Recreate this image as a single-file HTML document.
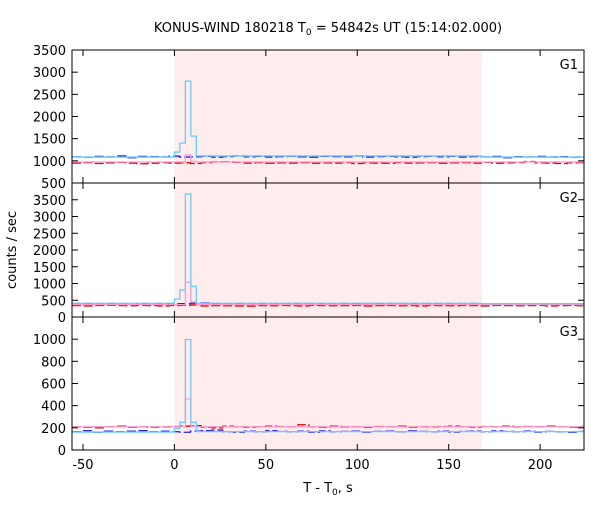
<!DOCTYPE html>
<html><head><meta charset="utf-8"><style>
body{margin:0;background:#fff;}
svg text{font-family:"DejaVu Sans","Liberation Sans",sans-serif;font-size:13px;fill:#000;}
</style></head><body>
<svg id="chart" width="600" height="500" xmlns="http://www.w3.org/2000/svg">
<text x="328" y="32" text-anchor="middle">KONUS-WIND 180218 T<tspan font-size="9" dy="3">0</tspan><tspan dy="-3"> = 54842s UT (15:14:02.000)</tspan></text>
<text transform="translate(16,250) rotate(-90)" text-anchor="middle">counts / sec</text>
<text x="328" y="492" text-anchor="middle">T - T<tspan font-size="9" dy="3">0</tspan><tspan dy="-3">, s</tspan></text>
<g id="plots"></g>
</svg>
<script>
const xTicks=[-50,0,50,100,150,200];
const shadeRange=[0,168];
const bgBin=5.888;
const g1Blue=[1090,1080,1100,1090,1110,1070,1100,1095,1090,1105,1085,1090,1100,1080,1095,1110,1090,1100,1085,1095,1105,1090,1080,1100,1095,1090,1110,1085,1095,1100,1090,1080,1095,1105,1090,1100,1085,1095,1090,1100,1070,1095,1090,1100,1085,1095,1080,1090];
const g1Red=[950,960,940,955,965,950,935,945,960,950,955,940,960,975,980,965,950,960,945,955,950,960,945,955,950,960,940,955,950,945,960,950,955,960,945,955,960,950,965,945,955,960,985,955,950,940,955,960];
const g2Blue=[380,385,375,390,380,370,385,380,390,395,400,410,420,390,380,385,375,395,380,385,390,380,375,385,380,385,390,380,385,380,375,385,380,390,380,385,375,380,385,390,380,375,385,380,390,385,380,385];
const g2Red=[340,330,345,350,340,335,345,340,330,345,350,360,330,340,335,330,325,340,335,345,340,330,345,340,335,340,345,330,340,345,335,340,330,345,340,335,345,340,330,345,340,335,340,345,330,340,345,335];
const g3Blue=[165,175,160,170,165,170,175,165,170,165,160,170,175,180,165,160,170,165,175,168,165,170,160,172,165,168,170,162,168,170,165,172,168,165,170,162,168,170,165,172,168,165,170,162,168,165,160,168];
const g3Red=[210,205,200,210,215,205,210,205,208,212,215,220,205,200,215,210,205,210,215,212,210,228,210,205,215,208,210,205,212,210,215,205,210,208,212,215,210,205,212,210,215,208,212,210,215,210,205,212];
const lbEdges=[-56,0,3,6,9,12,168,224];
const g1Light=[1085,1198,1400,2797,1558,1110,1085];
const g2Light=[410,538,808,3670,918,410,400];
const g3Light=[162,195,250,997,250,166,166];
const pkEdges=[-56,6,9,12,224];
const g1Pink=[973,1130,990,973];
const g2Pink=[370,1038,450,370];
const g3Pink=[210,460,215,210];
const panels=[
 {name:'G1',top:50,bot:183,min:500,max:3500,ticks:[500,1000,1500,2000,2500,3000,3500],blue:g1Blue,red:g1Red,light:g1Light,pink:g1Pink},
 {name:'G2',top:183,bot:317,min:0,max:4000,ticks:[0,500,1000,1500,2000,2500,3000,3500],blue:g2Blue,red:g2Red,light:g2Light,pink:g2Pink},
 {name:'G3',top:317,bot:450,min:0,max:1200,ticks:[0,200,400,600,800,1000],blue:g3Blue,red:g3Red,light:g3Light,pink:g3Pink}];
const X0=72,X1=584,T0=-56,T1=224;
const sx=t=>X0+(t-T0)/(T1-T0)*(X1-X0);
const NS='http://www.w3.org/2000/svg';
const root=document.getElementById('plots');
function mk(tag,attrs,parent){const e=document.createElementNS(NS,tag);for(const k in attrs)e.setAttribute(k,attrs[k]);(parent||root).appendChild(e);return e;}
function stepPath(edges,vals,sy){let d='';for(let i=0;i<vals.length;i++){const y=sy(vals[i]);d+=(i?'L':'M')+sx(edges[i])+','+y+'L'+sx(edges[i+1])+','+y;}return d;}
panels.forEach((p,pi)=>{
 const sy=v=>p.bot-(v-p.min)/(p.max-p.min)*(p.bot-p.top);
 const g=mk('g',{});
 
 
 const sh=mk('rect',{x:sx(shadeRange[0]),y:p.top,width:sx(shadeRange[1])-sx(shadeRange[0]),height:p.bot-p.top,fill:'#ffeded'},g);
 
 
 const bgEdges=p.blue.map((v,i)=>T0+i*bgBin);bgEdges.push(T0+p.blue.length*bgBin);
 const cl=mk('clipPath',{id:'c'+pi},g);mk('rect',{x:X0,y:p.top,width:X1-X0,height:p.bot-p.top},cl);
 const pg=mk('g',{'clip-path':'url(#c'+pi+')'},g);
 const rl=mk('path',{d:stepPath(bgEdges,p.red,sy),fill:'none',stroke:'#dd0000','stroke-width':1.3,'stroke-dasharray':'9,3'},pg);
 
 
 const bl=mk('path',{d:stepPath(bgEdges,p.blue,sy),fill:'none',stroke:'#2222ee','stroke-width':1.3,'stroke-dasharray':'9,3'},pg);
 
 
 const pk=mk('path',{d:stepPath(pkEdges,p.pink,sy),fill:'none',stroke:'#ff99cc','stroke-width':1.3},pg);
 
 
 const lb=mk('path',{d:stepPath(lbEdges,p.light,sy),fill:'none',stroke:'#66ccff','stroke-width':1.3},pg);
 
 
 const fr=mk('rect',{x:X0,y:p.top,width:X1-X0,height:p.bot-p.top,fill:'none',stroke:'#000','stroke-width':1},g);
 
 
 p.ticks.forEach(v=>{const y=sy(v);
  mk('line',{x1:X0,x2:X0+6,y1:y,y2:y,stroke:'#000'},g);
  mk('line',{x1:X1,x2:X1-6,y1:y,y2:y,stroke:'#000'},g);
  if(!(pi>0&&v===p.max)){const t=mk('text',{x:X0-6,y:y+5,'text-anchor':'end'},g);t.textContent=v;
  
  }
 });
 xTicks.forEach(v=>{const x=sx(v);
  mk('line',{x1:x,x2:x,y1:p.top,y2:p.top+6,stroke:'#000'},g);
  mk('line',{x1:x,x2:x,y1:p.bot,y2:p.bot-6,stroke:'#000'},g);
  if(pi===2){const t=mk('text',{x:x,y:p.bot+19,'text-anchor':'middle'},g);t.textContent=v;
  
  }
 });
 const lab=mk('text',{x:X1-6,y:p.top+19,'text-anchor':'end'},g);lab.textContent=p.name;
 
 
});
</script>
</body></html>
